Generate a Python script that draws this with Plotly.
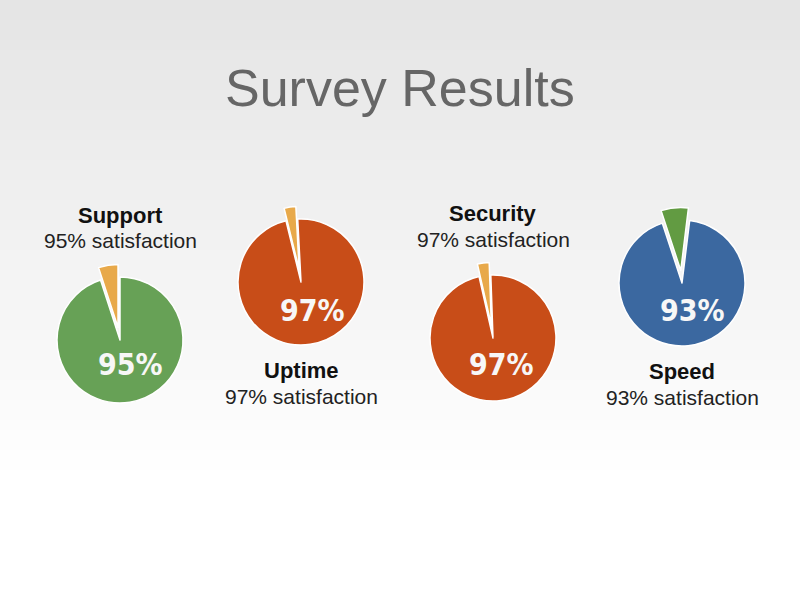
import plotly.graph_objects as go

# survey data
categories = ["Support", "Uptime", "Security", "Speed"]
satisfaction = [95, 97, 97, 93]
main_colors = ["#67a156", "#c84d18", "#c84d18", "#3b68a0"]
wedge_colors = ["#e8a94a", "#e8a94a", "#e8a94a", "#629b42"]

W, H = 800, 600
R = 63
PULL = 0.2

# pie layout in pixels (center x, center y from top, rotation, label below?)
pie_pos = [(120, 340, 0, False), (301, 282, -3, True), (493, 338, -2, False), (682, 283, 7, True)]
pct_pos = [(130, 364), (312, 310), (502, 365), (692, 310)]


def px(x):
    return x / W


def py(y):
    return 1 - y / H


def note(text, x, y, font):
    return dict(text=text, x=px(x), y=py(y), xref="paper", yref="paper",
                xanchor="center", yanchor="middle", showarrow=False, font=font)


fig = go.Figure()

# soft gray-to-white background gradient
shapes = []
bands = 60
for i in range(bands):
    y0 = i * H / bands
    t = min(1.0, (y0 + H / bands / 2) / 470)
    g = int(229 + (255 - 229) * t)
    shapes.append(dict(type="rect", xref="paper", yref="paper", layer="below",
                       x0=0, x1=1, y0=py(y0 + H / bands + 1), y1=py(y0),
                       fillcolor=f"rgb({g},{g},{g})", line_width=0))

annotations = [note("Survey Results", 400, 88,
                    dict(family="Liberation Sans, Arial", size=52, color="#666666"))]

for cat, val, mc, wc, (cx, cy, rot, below), (tx, ty) in zip(
        categories, satisfaction, main_colors, wedge_colors, pie_pos, pct_pos):
    half = R * (1 + PULL)
    fig.add_trace(go.Pie(
        values=[val, 100 - val],
        labels=[cat + " satisfied", cat + " other"],
        marker=dict(colors=[mc, wc], line=dict(color="white", width=1.5)),
        pull=[0, PULL],
        sort=False,
        direction="clockwise",
        rotation=rot,
        textinfo="none",
        hoverinfo="label+value",
        showlegend=False,
        domain=dict(x=[px(cx - half), px(cx + half)], y=[py(cy + half), py(cy - half)]),
    ))
    annotations.append(note(f"{val}%", tx, ty,
                            dict(family="DejaVu Sans Condensed", size=30, color="#f7f7f7", weight="bold")))
    ly = (cy + 88, cy + 114) if below else (cy - 125, cy - 99)
    annotations.append(note(f"<b>{cat}</b>", cx, ly[0],
                            dict(family="Liberation Sans, Arial", size=22, color="#111111")))
    annotations.append(note(f"{val}% satisfaction", cx, ly[1],
                            dict(family="Liberation Sans, Arial", size=21, color="#222222")))

fig.update_layout(
    width=W, height=H,
    margin=dict(l=0, r=0, t=0, b=0),
    paper_bgcolor="white",
    plot_bgcolor="white",
    shapes=shapes,
    annotations=annotations,
)

fig.write_html("out.html", config={"displayModeBar": False},
               post_script="document.body.style.margin = '0';")
